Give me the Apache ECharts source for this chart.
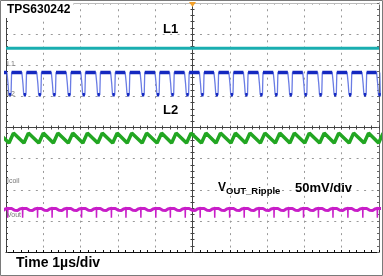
<!DOCTYPE html>
<html><head><meta charset="utf-8">
<script src="https://cdn.jsdelivr.net/npm/echarts@6/dist/echarts.min.js"></script>
<style>html,body{margin:0;padding:0;background:#fff}#c{width:383px;height:276px}</style>
</head><body><div id="c"></div>
<script>
// Time in µs relative to the trigger (screen centre), amplitudes in screen divisions.
const dipTimes = [-5.28,-4.89,-4.49,-4.09,-3.70,-3.30,-2.91,-2.51,-2.11,-1.72,-1.32,-0.92,-0.53,-0.13,0.27,0.66,1.06,1.45,1.85,2.25,2.64,3.04,3.44,3.83,4.23,4.63,5.02];
const l1Level = 2.55;
const l2High = 1.77, l2Low = 1.05;
// one switching period of each trace: [offset from L2 dip (µs), level (div)]
const l2Shape = [[-0.085,1.77],[-0.055,1.40],[-0.035,1.06],[0.025,1.05],[0.04,1.77]];
const icoilShape = [[-0.03,-0.50],[0.09,-0.18]];
const voutMain = [[-0.05,-2.57],[0.04,-2.60],[0.12,-2.66],[0.20,-2.67],[0.26,-2.62],[0.32,-2.60]];
const voutSpike = [[-0.068,-2.60],[-0.064,-2.90],[-0.058,-2.55]];
const channelLabels = ['L1','L2','Icoil','Vout'];

function wave(shape){const p=[];dipTimes.forEach(c=>shape.forEach(s=>p.push([+(c+s[0]).toFixed(4),s[1]])));return p;}
function bursts(shape){const p=[];dipTimes.forEach(c=>{shape.forEach(s=>p.push([+(c+s[0]).toFixed(4),s[1]]));p.push([c,null]);});return p;}
const l2Full = wave(l2Shape);
const l2Thick = [];
dipTimes.forEach((c,i)=>{
  l2Thick.push([c-0.035,l2Low],[c+0.025,l2Low],[c+0.03,null]);
  if(i<dipTimes.length-1){l2Thick.push([c+0.04,l2High],[dipTimes[i+1]-0.085,l2High],[dipTimes[i+1]-0.08,null]);}
});
const l1Data=[[-5,l1Level],[5,l1Level]];

const FONT="'Liberation Sans', Arial, sans-serif";
const grid={left:6,right:4,top:3,bottom:24};
const dotV={color:'#999',width:1,type:[2,4.22]};
const dotH={color:'#999',width:1,type:[2,5.46]};
function xAx(gi,pos,onZero,lineColor,inside,showSplit){return{type:'value',gridIndex:gi,position:pos,min:-5,max:5,interval:1,
  axisLine:{show:true,onZero:onZero,lineStyle:{color:lineColor,width:1}},
  axisTick:{show:true,inside:inside,length:2,lineStyle:{color:lineColor}},
  minorTick:{show:true,splitNumber:5,length:2,lineStyle:{color:lineColor}},
  axisLabel:{show:false},splitLine:{show:showSplit,lineStyle:dotV}};}
function yAx(gi,pos,onZero,lineColor,inside,showSplit){return{type:'value',gridIndex:gi,position:pos,min:-4,max:4,interval:1,
  axisLine:{show:true,onZero:onZero,lineStyle:{color:lineColor,width:1}},
  axisTick:{show:true,inside:inside,length:2,lineStyle:{color:lineColor}},
  minorTick:{show:true,splitNumber:5,length:2,lineStyle:{color:lineColor}},
  axisLabel:{show:false},splitLine:{show:showSplit,lineStyle:dotH}};}

const chart=echarts.init(document.getElementById('c'));
chart.setOption({
  animation:false,backgroundColor:'#fff',
  grid:[Object.assign({},grid),Object.assign({},grid)],
  xAxis:[xAx(0,'bottom',true,'#444',false,true),xAx(0,'top',true,'#444',false,false),
         xAx(1,'bottom',false,'#111',true,false),xAx(1,'top',false,'#bbb',true,false)],
  yAxis:[yAx(0,'left',true,'#444',false,true),yAx(0,'right',true,'#444',false,false),
         yAx(1,'left',false,'#444',true,false),yAx(1,'right',false,'#666',true,false)],
  series:[
    {type:'line',xAxisIndex:0,yAxisIndex:0,data:l1Data,showSymbol:false,lineStyle:{color:'#1aaeb0',width:3},z:3},
    {type:'line',xAxisIndex:0,yAxisIndex:0,data:l2Full,showSymbol:false,lineStyle:{color:'#6a7ce4',width:1.3},z:3},
    {type:'line',xAxisIndex:0,yAxisIndex:0,data:l2Thick,showSymbol:false,connectNulls:false,lineStyle:{color:'#1428c0',width:3.5},z:4},
    {type:'line',xAxisIndex:0,yAxisIndex:0,data:wave(icoilShape),showSymbol:false,lineStyle:{color:'#22a622',width:3.5},z:3},
    {type:'line',xAxisIndex:0,yAxisIndex:0,data:wave(voutMain),showSymbol:false,lineStyle:{color:'#c81ec8',width:3},z:3},
    {type:'line',xAxisIndex:0,yAxisIndex:0,data:bursts(voutSpike),showSymbol:false,connectNulls:false,lineStyle:{color:'#c81ec8',width:1.5},z:3}
  ],
  graphic:[
    {type:'rect',shape:{x:0.5,y:0.5,width:382,height:275},style:{fill:null,stroke:'#7a7a7a',lineWidth:1},z:100},
    {type:'polygon',shape:{points:[[189,2],[196,2],[192.5,7]]},style:{fill:'#f2a02a'},z:100},
    {type:'text',left:4,top:2,style:{text:'TPS630242',font:'bold 12px '+FONT,fill:'#000',backgroundColor:'#fff',padding:[2,3,2,3]},z:100},
    {type:'text',left:163,top:23,style:{text:'L1',font:'bold 13px '+FONT,fill:'#000'},z:100},
    {type:'text',left:163,top:104,style:{text:'L2',font:'bold 13px '+FONT,fill:'#000'},z:100},
    {type:'text',left:218,top:182,style:{text:'{v|V}{s|OUT_Ripple}',font:'bold 12px '+FONT,fill:'#000',
       rich:{v:{font:'bold 12px '+FONT,fill:'#000'},s:{font:'bold 9.5px '+FONT,fill:'#000',padding:[7,0,0,0]}}},z:100},
    {type:'text',left:295,top:182,style:{text:'50mV/div',font:'bold 13px '+FONT,fill:'#000'},z:100},
    {type:'text',left:16,top:256,style:{text:'Time 1µs/div',font:'bold 14px '+FONT,fill:'#000'},z:100},
    {type:'text',left:7,top:61,style:{text:channelLabels[0],font:'7px '+FONT,fill:'#777'},z:100},
    {type:'text',left:7,top:91,style:{text:channelLabels[1],font:'7px '+FONT,fill:'#777'},z:100},
    {type:'text',left:7,top:178,style:{text:channelLabels[2],font:'7px '+FONT,fill:'#777'},z:100},
    {type:'text',left:7,top:212,style:{text:channelLabels[3],font:'7px '+FONT,fill:'#777'},z:100}
  ]
});
</script></body></html>
